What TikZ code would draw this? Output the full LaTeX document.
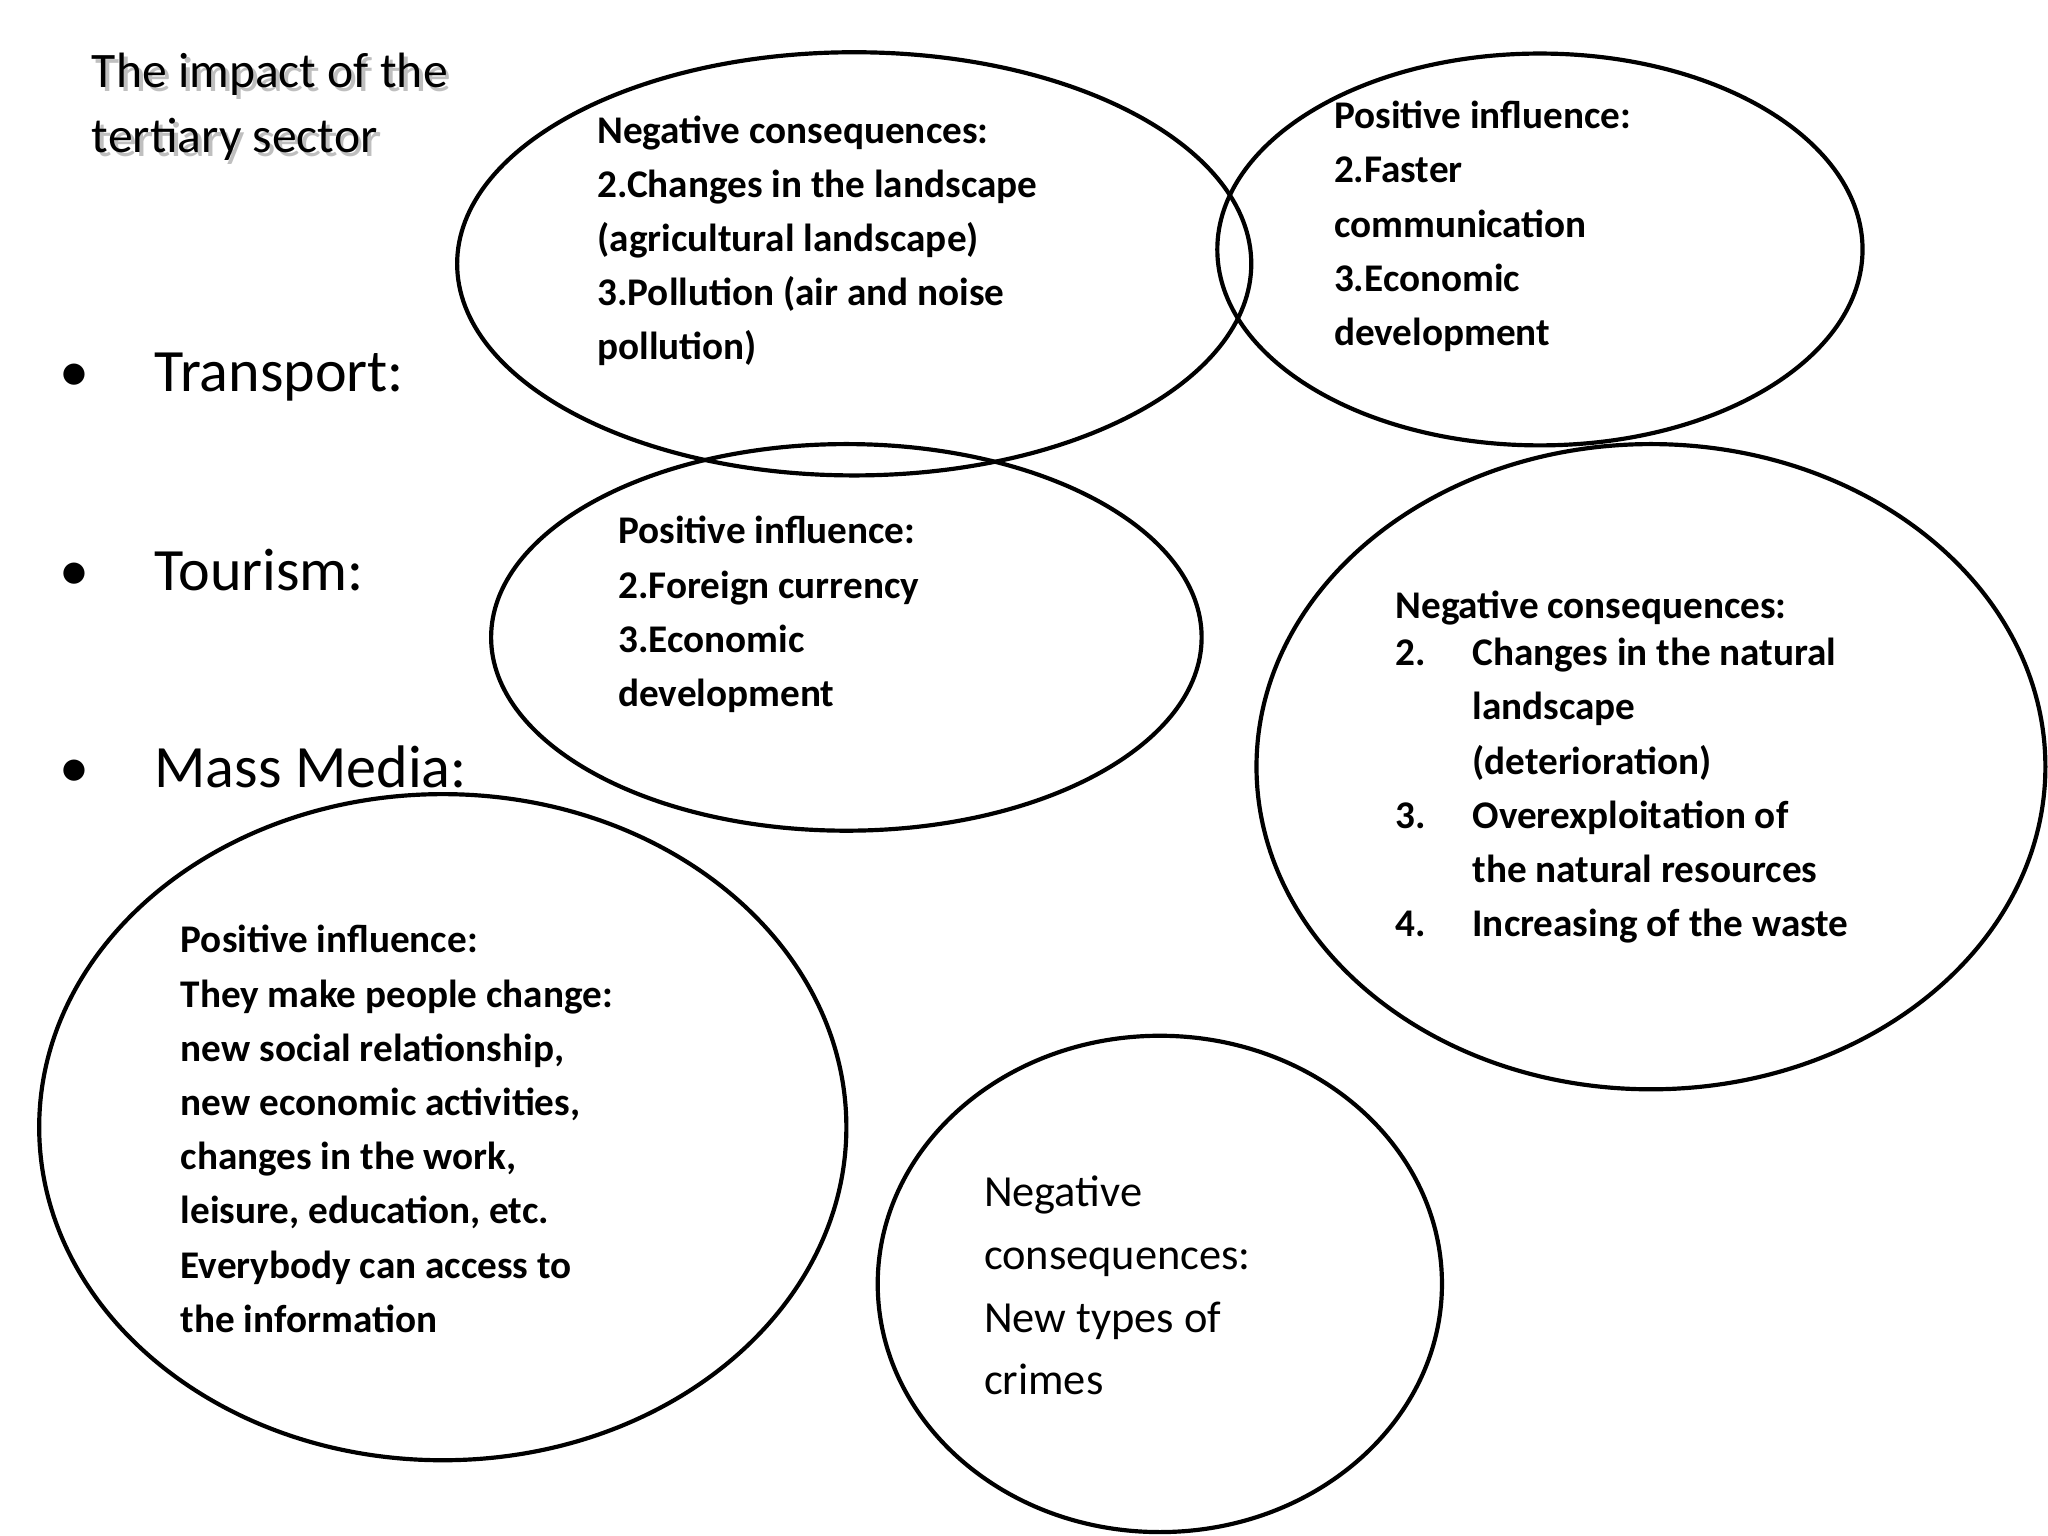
\documentclass[tikz,border=0pt]{standalone}
\usepackage{fontspec}
\setmainfont{Carlito}
\begin{document}
\begin{tikzpicture}[x=0.5pt,y=-0.5pt,
  ell/.style={draw,line width=1.6pt},
  btxt/.style={anchor=north west,align=left,inner sep=0pt,font=\fontsize{15}{20.75}\selectfont\bfseries},
  bul/.style={anchor=base west,inner sep=0pt,font=\fontsize{23}{27}\selectfont}]
\useasboundingbox (0,0) rectangle (1568,1176);
\draw[ell] (654,202) ellipse [x radius=304,y radius=162];
\draw[ell] (1179,191) ellipse [x radius=247,y radius=150];
\draw[ell] (648,488) ellipse [x radius=272,y radius=148];
\draw[ell] (1264,587) ellipse [x radius=302,y radius=247];
\draw[ell] (339,863) ellipse [x radius=309,y radius=255];
\draw[ell] (888,983) ellipse [x radius=216,y radius=190];
\node[anchor=north west,align=left,inner sep=0pt,text=gray!50,font=\fontsize{19}{25}\selectfont] at (73,43) {The impact of the\\tertiary sector};
\node[anchor=north west,align=left,inner sep=0pt,font=\fontsize{19}{25}\selectfont] (title) at (70,40) {The impact of the\\tertiary sector};
\node[bul] (b1) at (45,300) {\textbullet\hspace{25pt}Transport:};
\node[bul] (b2) at (45,452) {\textbullet\hspace{25pt}Tourism:};
\node[bul] (b3) at (45,603) {\textbullet\hspace{25pt}Mass Media:};
\node[btxt] (t1) at (457,88) {Negative consequences:\\2.Changes in the landscape\\(agricultural landscape)\\3.Pollution (air and noise\\pollution)};
\node[btxt] (t2) at (1021,77) {Positive influence:\\2.Faster\\communication\\3.Economic\\development};
\node[btxt] (t3) at (473,395) {Positive influence:\\2.Foreign currency\\3.Economic\\development};
\node[btxt] (t4) at (1068,452) {Negative consequences:\\[-0pt]
\begin{tabular}{@{}p{29.5pt}@{}l@{}}2.&Changes in the natural\\ &landscape\\ &(deterioration)\\3.&Overexploitation of\\ &the natural resources\\4.&Increasing of the waste\end{tabular}};
\node[btxt] (t5) at (138,708) {Positive influence:\\They make people change:\\new social relationship,\\new economic activities,\\changes in the work,\\leisure, education, etc.\\Everybody can access to\\the information};
\node[anchor=north west,align=left,inner sep=0pt,font=\fontsize{17}{24}\selectfont] (t6) at (753,900) {Negative\\consequences:\\New types of\\crimes};
\end{tikzpicture}
\end{document}
